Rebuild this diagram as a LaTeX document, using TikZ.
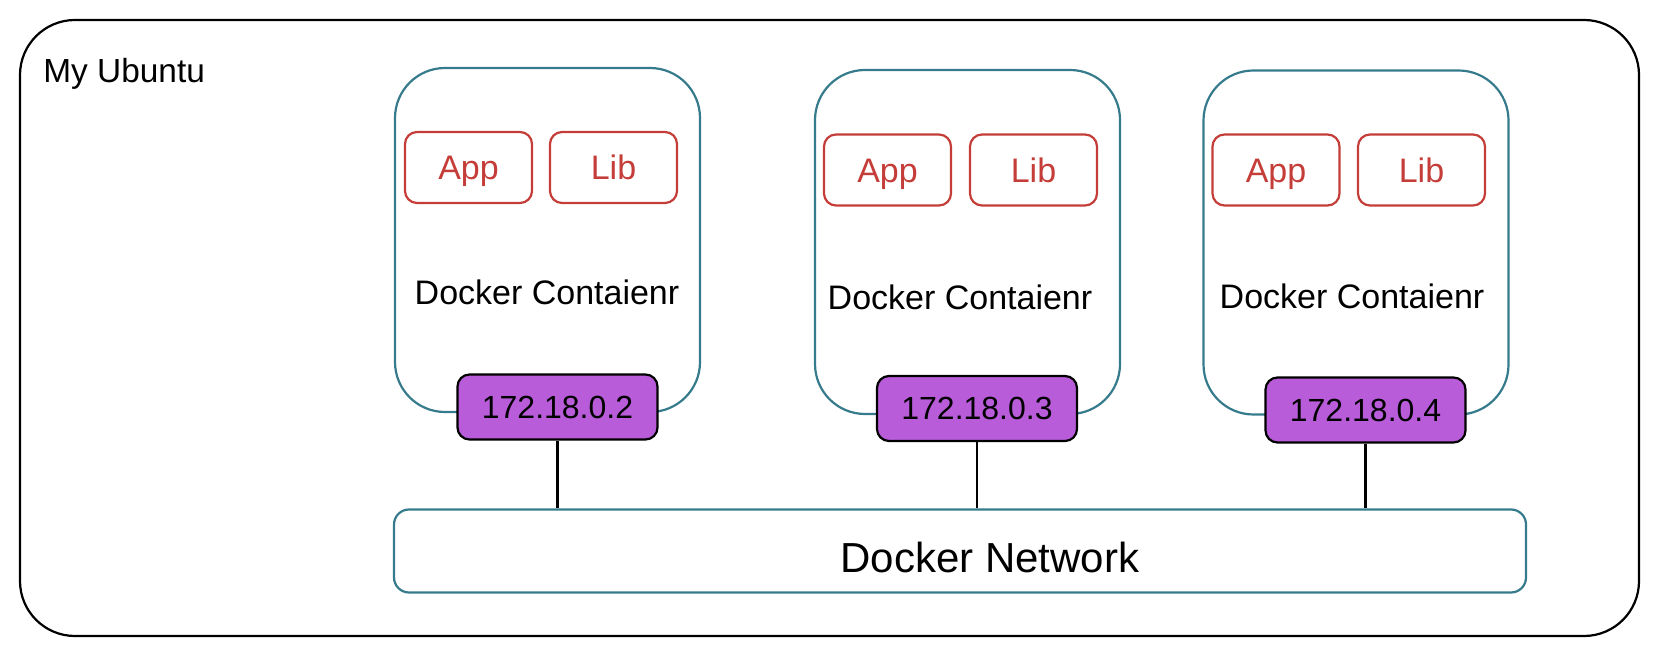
\documentclass[tikz,border=0pt]{standalone}
\usepackage{fontspec}
\setmainfont{Liberation Sans}
\definecolor{dteal}{HTML}{367B8C}
\definecolor{dred}{HTML}{C53D38}
\definecolor{dpurple}{HTML}{B85CD9}
\begin{document}
\begin{tikzpicture}[x=0.5pt,y=-0.5pt,
  host/.style={draw=black, line width=1.1pt, rounded corners=27.5pt,
    minimum width=809.5pt, minimum height=308pt, inner sep=0pt},
  ctr/.style={draw=dteal, line width=1.1pt, rounded corners=25pt,
    minimum width=152.5pt, minimum height=172pt, inner sep=0pt},
  part/.style={draw=dred, line width=1.1pt, rounded corners=6pt, text=dred,
    minimum width=63.5pt, minimum height=35.5pt, inner sep=0pt,
    text height=12.2pt, text depth=0pt,
    font=\fontsize{17}{20}\selectfont},
  ipbox/.style={draw=black, fill=dpurple, line width=1.1pt, rounded corners=6pt,
    minimum width=100pt, minimum height=32.5pt, inner sep=0pt,
    text height=11.5pt, text depth=0pt,
    font=\fontsize{16}{19}\selectfont},
  netbox/.style={draw=dteal, line width=1.1pt, rounded corners=7.5pt,
    minimum width=566pt, minimum height=41.5pt, inner sep=0pt},
  lbl/.style={inner sep=0pt, font=\fontsize{17}{20}\selectfont},
  wire/.style={draw=black, line width=1.1pt}
]
\useasboundingbox (0,0) rectangle (1658,656);
\node[host] (host) at (829.5,328) {};
\node[lbl, anchor=base west, font=\fontsize{16.7}{20}\selectfont] (title) at (43,83) {My Ubuntu};

% containers
\node[ctr] (c1) at (547.5,240) {};
\node[ctr] (c2) at (967.5,242) {};
\node[ctr] (c3) at (1356,242.5) {};

% app / lib
\node[part] (app1) at (468.5,167.5) {App};
\node[part] (lib1) at (613.5,167.5) {Lib};
\node[part] (app2) at (887.5,170) {App};
\node[part] (lib2) at (1033.5,170) {Lib};
\node[part] (app3) at (1276,170) {App};
\node[part] (lib3) at (1421.5,170) {Lib};

% container labels
\node[lbl, anchor=base] (t1) at (547,305) {Docker Contaienr};
\node[lbl, anchor=base] (t2) at (960,310) {Docker Contaienr};
\node[lbl, anchor=base] (t3) at (1352,309) {Docker Contaienr};

% network
\node[netbox] (net) at (960,551) {};
\node[lbl, anchor=base, font=\fontsize{21}{25}\selectfont] (nettext) at (990,573) {Docker Network};

% ip boxes
\node[ipbox] (ip1) at (557.5,407) {172.18.0.2};
\node[ipbox] (ip2) at (977,408.5) {172.18.0.3};
\node[ipbox] (ip3) at (1365.5,410) {172.18.0.4};

% wires
\draw[wire] (ip1.south) -- (ip1.south |- net.north);
\draw[wire] (ip2.south) -- (ip2.south |- net.north);
\draw[wire] (ip3.south) -- (ip3.south |- net.north);
\end{tikzpicture}
\end{document}
